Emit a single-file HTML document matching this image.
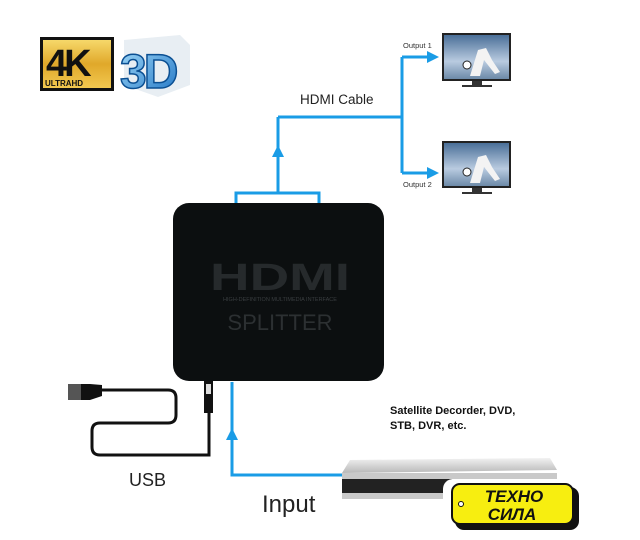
<!DOCTYPE html>
<html><head><meta charset="utf-8"><style>
html,body{margin:0;padding:0;background:#fff}
svg{display:block}
text{font-family:"Liberation Sans",sans-serif}
</style></head><body>
<svg width="640" height="540" viewBox="0 0 640 540" xmlns="http://www.w3.org/2000/svg">
<defs>
<linearGradient id="gold" x1="0" y1="0" x2="0" y2="1"><stop offset="0" stop-color="#f6d86a"/><stop offset="0.5" stop-color="#e0a82a"/><stop offset="1" stop-color="#f2c850"/></linearGradient>
<linearGradient id="sky" x1="0" y1="0" x2="0" y2="1"><stop offset="0" stop-color="#4a6f98"/><stop offset="0.6" stop-color="#b9cbe0"/><stop offset="1" stop-color="#6d8aa8"/></linearGradient>
<linearGradient id="silver" x1="0" y1="0" x2="0" y2="1"><stop offset="0" stop-color="#f2f2f2"/><stop offset="1" stop-color="#b8b8b8"/></linearGradient>
<linearGradient id="blue3d" x1="0" y1="0" x2="1" y2="1"><stop offset="0" stop-color="#9fd8f8"/><stop offset="1" stop-color="#1f74c4"/></linearGradient>
</defs>
<!-- 4K logo -->
<rect x="40" y="37" width="74" height="54" fill="#111"/>
<rect x="43" y="40" width="68" height="48" fill="url(#gold)"/>
<text x="46" y="76" font-size="38" font-weight="bold" fill="#111" letter-spacing="-3">4K</text>
<text x="45" y="86" font-size="8" font-weight="bold" fill="#111">ULTRAHD</text>
<!-- 3D logo -->
<path d="M124 40 L180 35 L190 45 L190 85 L158 97 L124 85 Z" fill="#e8eef3"/>
<text x="120" y="88" font-size="48" font-weight="bold" fill="url(#blue3d)" stroke="#0b4f92" stroke-width="1.5" letter-spacing="-3">3D</text>
<!-- blue lines -->
<g stroke="#1a9ce6" stroke-width="3" fill="none">
<path d="M236 204 V193 H319 V204"/>
<path d="M278 193 V117"/>
<path d="M278 117 H402"/>
<path d="M402 57 V173"/>
<path d="M402 57 H428"/>
<path d="M402 173 H428"/>
<path d="M232 382 V475 H342"/>
</g>
<g fill="#1a9ce6">
<path d="M272 157 L278 145 L284 157 Z"/>
<path d="M427 51 L439 57 L427 63 Z"/>
<path d="M427 167 L439 173 L427 179 Z"/>
<path d="M226 440 L232 428 L238 440 Z"/>
</g>
<text x="300" y="104" font-size="13.5" fill="#222">HDMI Cable</text>
<text x="403" y="48" font-size="7.5" fill="#333">Output 1</text>
<text x="403" y="187" font-size="7.5" fill="#333">Output 2</text>
<!-- TVs -->
<g>
<rect x="442" y="33" width="69" height="48" fill="#222"/>
<rect x="444" y="35" width="65" height="44" fill="url(#sky)"/>
<path d="M470 76 L478 50 L486 48 L492 60 L500 72 L495 74 L484 60 L480 76 Z" fill="#f3f3f3"/>
<circle cx="467" cy="65" r="4" fill="#fff" stroke="#222"/>
<rect x="472" y="81" width="10" height="4" fill="#333"/><rect x="462" y="85" width="30" height="2" fill="#333"/>
</g>
<g>
<rect x="442" y="141" width="69" height="47" fill="#222"/>
<rect x="444" y="143" width="65" height="43" fill="url(#sky)"/>
<path d="M470 183 L478 157 L486 155 L492 167 L500 179 L495 181 L484 167 L480 183 Z" fill="#f3f3f3"/>
<circle cx="467" cy="172" r="4" fill="#fff" stroke="#222"/>
<rect x="472" y="188" width="10" height="4" fill="#333"/><rect x="462" y="192" width="30" height="2" fill="#333"/>
</g>
<!-- Splitter box -->
<rect x="173" y="203" width="211" height="178" rx="16" fill="#0c0f10"/>
<text x="280" y="290" font-size="38" font-weight="bold" fill="#262a2c" text-anchor="middle" textLength="140" lengthAdjust="spacingAndGlyphs">HDMI</text>
<text x="280" y="301" font-size="5.5" fill="#3a3e40" text-anchor="middle">HIGH-DEFINITION MULTIMEDIA INTERFACE</text>
<text x="280" y="330" font-size="22" fill="#2c3032" text-anchor="middle">SPLITTER</text>
<!-- USB cable -->
<rect x="204" y="381" width="9" height="32" fill="#111"/>
<rect x="206" y="384" width="5" height="10" fill="#ddd"/>
<path d="M209 413 V455 H100 Q92 455 92 447 V431 Q92 423 100 423 H168 Q176 423 176 415 V398 Q176 390 168 390 H100" stroke="#111" stroke-width="3" fill="none"/>
<path d="M102 385 L90 384 H80 V400 H90 L102 396 Z" fill="#111"/>
<rect x="68" y="384" width="13" height="16" fill="#555"/>
<text x="129" y="486" font-size="18" fill="#222">USB</text>
<text x="262" y="512" font-size="24" fill="#222">Input</text>
<text x="390" y="414" font-size="11" font-weight="bold" fill="#111">Satellite Decorder, DVD,</text>
<text x="390" y="429" font-size="11" font-weight="bold" fill="#111">STB, DVR, etc.</text>
<!-- DVD player -->
<path d="M350 460 L550 458 L557 470 L342 473 Z" fill="url(#silver)"/>
<rect x="342" y="473" width="215" height="26" fill="#c9c9c9"/>
<rect x="342" y="479" width="110" height="14" fill="#222"/>
<!-- Logo -->
<rect x="443" y="479" width="140" height="58" rx="10" fill="#fff"/>
<rect x="455" y="487" width="124" height="43" rx="9" fill="#111"/>
<rect x="452" y="484" width="121" height="40" rx="8" fill="#f7ee10" stroke="#111" stroke-width="2"/>
<circle cx="461" cy="504" r="2.5" fill="#fff" stroke="#111"/>
<text x="514" y="502" font-size="17" font-weight="bold" font-style="italic" fill="#111" text-anchor="middle">ТЕХНО</text>
<text x="512" y="520" font-size="17" font-weight="bold" font-style="italic" fill="#111" text-anchor="middle">СИЛА</text>
</svg>
</body></html>
